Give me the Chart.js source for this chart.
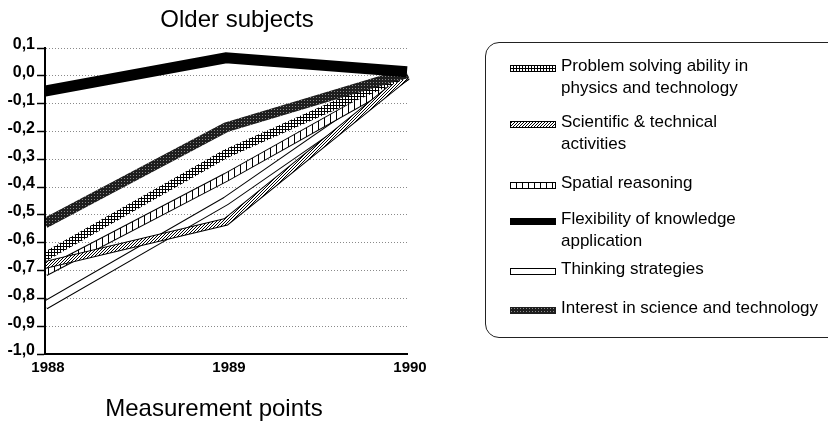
<!DOCTYPE html>
<html>
<head>
<meta charset="utf-8">
<script src="https://cdn.jsdelivr.net/npm/chart.js@4.4.1/dist/chart.umd.min.js"></script>
<style>
html,body{margin:0;padding:0;background:#fff;}
#wrap{position:relative;width:828px;height:421px;overflow:hidden;font-family:"Liberation Sans",Arial,Helvetica,sans-serif;color:#000;}
#c{position:absolute;left:0;top:0;}
.t{position:absolute;white-space:nowrap;transform:translate(-50%,-50%);font-size:24px;line-height:28px;}
#legend{position:absolute;left:485px;top:42px;width:360px;height:296px;border:1.5px solid #222;border-radius:14px;box-sizing:border-box;}
.sw{position:absolute;left:24px;}
.lt{position:absolute;left:75px;font-size:17px;line-height:22px;white-space:nowrap;}
</style>
</head>
<body>
<div id="wrap">
  <canvas id="c" width="828" height="421"></canvas>
  <div class="t" id="title" style="left:237px;top:19px;"></div>
  <div class="t" id="xtitle" style="left:214px;top:408px;"></div>
  <div id="legend"></div>
</div>
<script>
// ---- data ----
const chartTitle = 'Older subjects';
const xAxisTitle = 'Measurement points';
const years = ['1988', '1989', '1990'];
const problemSolving = [-0.65, -0.28, 0.01];
const scientific = [-0.68, -0.525, 0.0];
const spatial = [-0.705, -0.365, 0.0];
const flexibility = [-0.055, 0.065, 0.015];
const thinking = [-0.825, -0.45, 0.0];
const interest = [-0.53, -0.185, 0.01];
const legendLabels = [
  ['Problem solving ability in', 'physics and technology'],
  ['Scientific & technical', 'activities'],
  ['Spatial reasoning'],
  ['Flexibility of knowledge', 'application'],
  ['Thinking strategies'],
  ['Interest in science and technology']
];
const yMin = -1.0, yMax = 0.1, yStep = 0.1;

// ---- styling ----
function makePattern(kind) {
  const c = document.createElement('canvas');
  const g = c.getContext('2d');
  if (kind === 'cross') {
    c.width = 3; c.height = 3;
    g.fillStyle = '#fff'; g.fillRect(0, 0, 3, 3);
    g.fillStyle = '#000'; g.fillRect(0, 0, 3, 1); g.fillRect(0, 0, 1, 3);
  } else if (kind === 'diag') {
    c.width = 3; c.height = 3;
    g.fillStyle = '#fff'; g.fillRect(0, 0, 3, 3);
    g.fillStyle = '#000'; g.fillRect(2, 0, 1, 1); g.fillRect(1, 1, 1, 1); g.fillRect(0, 2, 1, 1);
  } else if (kind === 'vert') {
    c.width = 6; c.height = 1;
    g.fillStyle = '#fff'; g.fillRect(0, 0, 6, 1);
    g.fillStyle = '#000'; g.fillRect(0, 0, 1, 1);
  } else if (kind === 'stip') {
    c.width = 3; c.height = 3;
    g.fillStyle = '#1e1e1e'; g.fillRect(0, 0, 3, 3);
    g.fillStyle = '#8a8a8a'; g.fillRect(1, 1, 1, 1);
  } else if (kind === 'white') {
    c.width = 1; c.height = 1; g.fillStyle = '#fff'; g.fillRect(0, 0, 1, 1);
  } else {
    c.width = 1; c.height = 1; g.fillStyle = '#000'; g.fillRect(0, 0, 1, 1);
  }
  return g.createPattern(c, 'repeat');
}
const pat = {
  cross: makePattern('cross'), diag: makePattern('diag'), vert: makePattern('vert'),
  stip: makePattern('stip'), white: makePattern('white'), black: makePattern('black')
};

function band(label, data, fill, width, order) {
  return {
    label: label, data: data, borderColor: fill, borderWidth: width, order: order,
    pointRadius: 0, tension: 0, fill: false,
    borderJoinStyle: 'miter', borderCapStyle: 'butt',
    clip: {left: -1, top: false, right: false, bottom: false}
  };
}
const L = legendLabels.map(l => l.join(' '));
const datasets = [
  band(L[3], flexibility, '#000', 11, 1),
  band(L[5], interest, pat.stip, 10, 2),
  band(L[0], problemSolving, pat.cross, 9, 3),
  band(L[1], scientific, pat.diag, 6, 4),
  band(L[1] + ' (outline)', scientific, '#000', 8, 5),
  band(L[2], spatial, pat.vert, 7, 6),
  band(L[2] + ' (outline)', spatial, '#000', 9, 7),
  band(L[4], thinking, '#fff', 7, 8),
  band(L[4] + ' (outline)', thinking, '#000', 9, 9)
];

const FONT = '"Liberation Sans", Arial, Helvetica, sans-serif';

new Chart(document.getElementById('c'), {
  type: 'line',
  data: { labels: years, datasets: datasets },
  options: {
    responsive: false, animation: false, events: [],
    layout: { padding: { left: 0, top: 48, right: 421, bottom: 37 } },
    plugins: { legend: { display: false }, tooltip: { enabled: false }, title: { display: false } },
    scales: {
      x: {
        type: 'category', offset: false,
        grid: { display: true, drawOnChartArea: false, drawTicks: false },
        border: { display: true, color: '#000', width: 2 },
        ticks: { color: '#000', font: { family: FONT, size: 15, weight: 'bold' }, padding: 5, labelOffset: 3, maxRotation: 0, autoSkip: false },
        afterFit: (s) => { s.height = 30; }
      },
      y: {
        min: yMin, max: yMax,
        grid: { color: '#8a8a8a', lineWidth: 1, tickLength: 8, tickColor: '#000', tickWidth: 1.5, tickBorderDash: [] },
        border: { display: true, color: '#000', width: 2, dash: [1, 2] },
        ticks: {
          stepSize: yStep, color: '#000', padding: 2, labelOffset: -3,
          font: { family: FONT, size: 16, weight: 'bold' },
          callback: (v) => Number(v).toFixed(1).replace('.', ',')
        },
        afterFit: (s) => { s.width = 45; }
      }
    }
  }
});

document.getElementById('title').textContent = chartTitle;
document.getElementById('xtitle').textContent = xAxisTitle;

// ---- legend ----
const legendFills = [pat.cross, pat.diag, pat.vert, pat.black, pat.white, pat.stip];
const legendOutline = [true, true, true, false, true, false];
const legendRowCenter = [23, 79, 140, 176, 226, 265];
const legendEl = document.getElementById('legend');
legendLabels.forEach((lines, i) => {
  const sw = document.createElement('canvas');
  sw.width = 46; sw.height = 7; sw.className = 'sw';
  sw.style.top = (legendRowCenter[i] + 2 - 3.5) + 'px';
  const g = sw.getContext('2d');
  g.fillStyle = legendFills[i]; g.fillRect(0, 0, 46, 7);
  if (legendOutline[i]) { g.strokeStyle = '#000'; g.lineWidth = 1; g.strokeRect(0.5, 0.5, 45, 6); }
  legendEl.appendChild(sw);
  const t = document.createElement('div');
  t.className = 'lt';
  t.style.top = (legendRowCenter[i] - 11) + 'px';
  t.innerHTML = lines.map(s => s.replace(/&/g, '&amp;')).join('<br>');
  legendEl.appendChild(t);
});
</script>
</body>
</html>
